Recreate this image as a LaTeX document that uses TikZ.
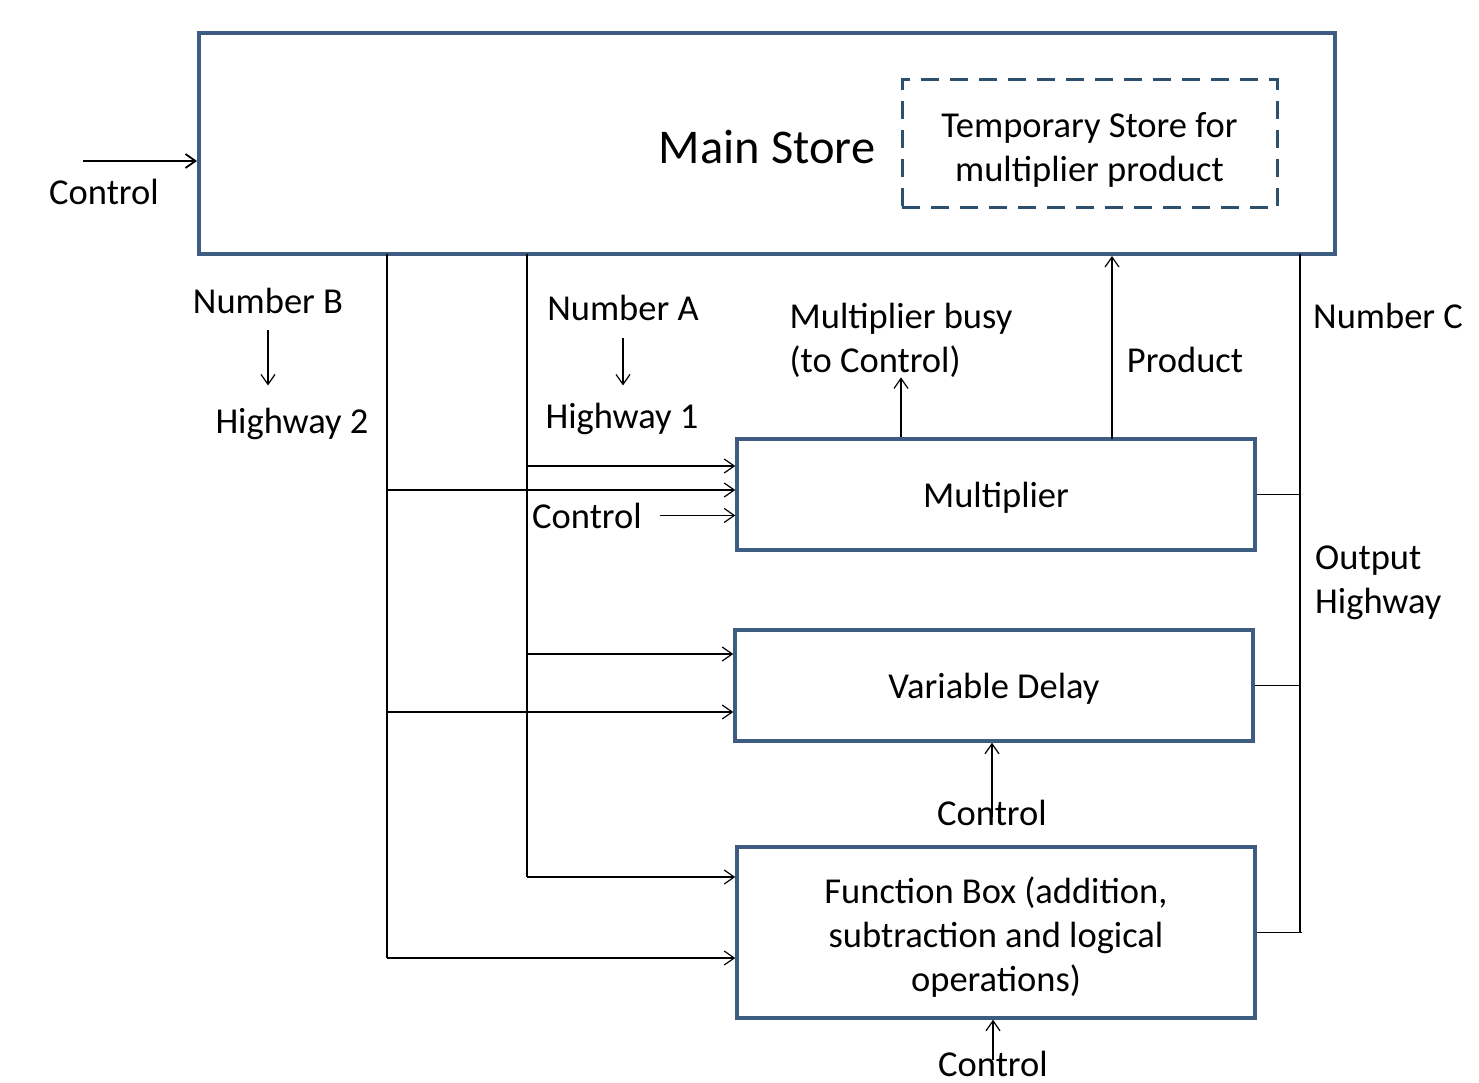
\documentclass[tikz,border=0pt]{standalone}
\usepackage{fontspec}
\setmainfont{Carlito}
\usetikzlibrary{arrows.meta, positioning}
\definecolor{boxblue}{RGB}{62,92,130}
\definecolor{tempblue}{RGB}{45,80,110}

\begin{document}
\begin{tikzpicture}[x=1pt, y=-1pt, font=\fontsize{36.5}{44}\selectfont]
\tikzstyle{box} = [rectangle, draw=boxblue, line width=3.5pt, minimum width=518pt,
                    minimum height=111pt, inner sep=0pt]
\tikzstyle{block} = [box, align=center]
\tikzstyle{oneline} = [box, text height=35pt, text depth=9pt]
\tikzstyle{store} = [box, line width=4pt, minimum width=1136pt, minimum height=221pt,
                    font=\fontsize{48.5}{58}\selectfont, text height=50pt, text depth=9pt]
\tikzstyle{tempstore} = [block, draw=tempblue, line width=3pt, dash pattern=on 18pt off 11pt,
                    minimum width=375pt, minimum height=128pt]
\tikzstyle{label} = [inner sep=0pt, anchor=base]
\tikzstyle{line} = [line width=1.2pt]
\tikzstyle{arrow} = [line, ->, >={Straight Barb[length=10pt,width=14pt]}]
\useasboundingbox (0,0) rectangle (1479,1083);
\node (main) [store] at (767,143.5) {Main Store};
\node (temp) [tempstore] at (1089.5,144) {\rule{0pt}{36pt}Temporary Store for\\multiplier product};
\node (mult) [oneline] at (996,494.5) {Multiplier};
\node (delay) [oneline] at (994,685.5) {Variable Delay};
\node (func) [block, minimum height=171pt] at (996,932.5) {\rule{0pt}{35.5pt}Function Box (addition,\\subtraction and logical\\operations)};
% labels
\node (ctlmain) [label] at (104,205) {Control};
\node (numB) [label] at (268,313) {Number B};
\node (hwy2) [label] at (292,433) {Highway 2};
\node (numA) [label] at (623,320) {Number A};
\node (hwy1) [label] at (622,428) {Highway 1};
\node (ctlmult) [label] at (587,528) {Control};
\node (busy) [inner sep=0pt, align=left] at (901,340) {Multiplier busy\\(to Control)};
\node (prodlbl) [label] at (1185,372) {Product};
\node (numC) [label] at (1388,328) {Number C};
\node (outhwy) [inner sep=0pt, align=left, anchor=west] at (1315,583) {Output\\Highway};
\node (ctldelay) [label] at (992,825) {Control};
\node (ctlfunc) [label] at (993,1076) {Control};
% highways
\coordinate (ctlin) at (83,161);
\coordinate (busB) at (387,254);
\coordinate (busA) at (527,254);
\coordinate (busC) at (1300,254);
\coordinate (a1) at (527,466);
\coordinate (b1) at (387,490);
\coordinate (a2) at (527,654);
\coordinate (b2) at (387,712);
\coordinate (a3) at (527,877);
\coordinate (b3) at (387,958);
\coordinate (prod) at (1112,439);
\draw [arrow, line width=1.8pt] (ctlin) -- (ctlin -| main.west);
\draw [line] (busA) -- (a3);
\draw [line] (busB) -- (b3);
\draw [arrow] (a1) -- (a1 -| mult.west);
\draw [arrow] (b1) -- (b1 -| mult.west);
\draw [arrow] (a2) -- (a2 -| delay.west);
\draw [arrow] (b2) -- (b2 -| delay.west);
\draw [arrow] (a3) -- (a3 -| func.west);
\draw [arrow] (b3) -- (b3 -| func.west);
\draw [arrow] ([xshift=18pt]ctlmult.east) -- (ctlmult.east -| mult.west);
\draw [arrow] ([yshift=-17pt]numB.south) -- ([yshift=-72pt]numB.south);
\draw [arrow] ([yshift=-18pt]numA.south) -- ([yshift=-65pt]numA.south);
\draw [arrow] (busy.south |- mult.north) -- (busy.south);
\draw [arrow] (prod) -- (prod |- main.south);
\draw [line] (busC) -- (busC |- func.east);
\draw [line] (mult.east) -- (mult.east -| busC);
\draw [line] (delay.east) -- (delay.east -| busC);
\draw [line, line width=1.8pt] (func.east) -- ([xshift=2pt]func.east -| busC);
\draw [arrow] ([yshift=8pt]ctldelay.base) -- (ctldelay.base |- delay.south);
\draw [arrow] ([yshift=16pt]ctlfunc.base) -- (ctlfunc.base |- func.south);
\end{tikzpicture}
\end{document}
